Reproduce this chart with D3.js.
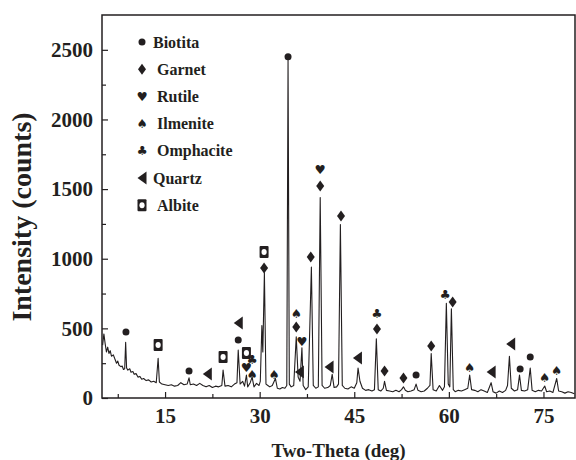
<!DOCTYPE html>
<html>
<head>
<meta charset="utf-8">
<script src="https://cdn.jsdelivr.net/npm/d3@7"></script>
<style>
  body { margin: 0; background: #fff; }
  svg text { font-family: "Liberation Serif", "Times New Roman", serif; font-weight: bold; fill: #231f20; }
  svg text.suit { font-family: "DejaVu Sans", "Liberation Sans", sans-serif; font-weight: normal; }
</style>
</head>
<body>
<svg id="chart"></svg>
<script>
// XRD pattern: 2-theta (deg) and intensity (counts)
const twoTheta = [
  5.1, 5.3, 5.5, 5.7, 5.9, 6.1, 6.3, 6.5, 6.8, 7.0, 7.3, 7.5, 7.7, 8.0, 8.2, 8.4, 8.6, 8.75, 8.9,
  9.1, 9.4, 9.6, 9.9, 10.1, 10.4, 10.7, 11.0, 11.3, 11.6, 12.0, 12.4, 12.8, 13.2, 13.6, 13.9, 14.1,
  14.5, 15.0, 15.5, 16.0, 16.5, 17.0, 17.5, 18.0, 18.5, 18.8, 19.0, 19.5, 20.0, 20.5, 21.0, 21.5,
  22.0, 22.5, 23.0, 23.5, 24.0, 24.2, 24.5, 25.0, 25.5, 26.0, 26.4, 26.6, 26.9, 27.3, 27.6, 27.9,
  28.1, 28.5, 28.8, 29.1, 29.5, 29.9, 30.1, 30.35, 30.5, 30.75, 31.0, 31.3, 31.6, 32.0, 32.5, 32.8,
  33.2, 33.6, 34.0, 34.3, 34.5, 34.7, 35.0, 35.4, 35.8, 36.1, 36.4, 36.7, 36.9, 37.3, 37.7, 38.2,
  38.5, 38.9, 39.3, 39.6, 39.9, 40.3, 40.8, 41.2, 41.5, 41.8, 42.2, 42.5, 42.8, 43.1, 43.5, 44.0,
  44.5, 45.0, 45.4, 45.6, 45.9, 46.3, 46.8, 47.3, 47.8, 48.2, 48.5, 48.8, 49.2, 49.6, 49.8, 50.1,
  50.6, 51.1, 51.6, 52.1, 52.5, 52.8, 53.1, 53.5, 54.0, 54.5, 54.8, 55.1, 55.6, 56.1, 56.6, 57.0,
  57.2, 57.5, 58.0, 58.5, 59.0, 59.3, 59.6, 59.9, 60.15, 60.4, 60.7, 61.0, 61.5, 62.0, 62.5, 63.0,
  63.3, 63.6, 64.1, 64.6, 65.1, 65.6, 66.1, 66.7, 67.0, 67.5, 68.0, 68.5, 69.0, 69.3, 69.6, 69.9,
  70.4, 70.9, 71.2, 71.5, 72.0, 72.5, 72.9, 73.2, 73.7, 74.2, 74.7, 75.2, 75.5, 76.0, 76.5, 77.1,
  77.4, 77.9, 78.4, 78.9, 79.4, 79.9
];
const counts = [
  380, 460, 390, 330, 365, 320, 340, 300, 310, 285, 250, 265, 235, 225, 230, 205, 210, 400, 215,
  200, 210, 185, 190, 170, 175, 150, 155, 135, 140, 125, 130, 115, 120, 110, 285, 115,
  100, 95, 90, 95, 85, 90, 110, 95, 100, 145, 95, 100, 90, 105, 90, 80,
  90, 75, 85, 80, 90, 200, 85, 90, 80, 100, 110, 345, 100, 120, 85, 165,
  80, 110, 150, 80, 105, 90, 120, 520, 330, 900, 100, 90, 80, 90, 140, 70,
  65, 75, 70, 90, 2430, 100, 80, 90, 440, 150, 120, 360, 90, 60, 80, 940,
  90, 70, 80, 1440, 90, 70, 75, 90, 170, 75, 80, 100, 1245, 90, 70, 65,
  80, 70, 110, 215, 120, 70, 55, 60, 50, 60, 425, 60, 50, 70, 120, 55,
  50, 45, 55, 45, 60, 80, 55, 45, 50, 60, 100, 55, 45, 50, 70, 90,
  320, 60, 50, 90, 55, 80, 680, 100, 80, 640, 60, 45, 55, 50, 60, 70,
  165, 60, 55, 45, 60, 50, 40, 110, 45, 35, 50, 40, 55, 90, 300, 70,
  50, 60, 165, 55, 50, 60, 215, 55, 45, 55, 50, 86, 45, 50, 40, 140,
  50, 45, 35, 45, 40, 30
];

// phase markers above the peaks
const markerPhase = [
  'Biotita', 'Albite', 'Biotita', 'Quartz', 'Albite', 'Biotita', 'Quartz', 'Rutile', 'Albite',
  'Ilmenite', 'Omphacite', 'Garnet', 'Albite', 'Ilmenite', 'Biotita', 'Ilmenite', 'Garnet',
  'Rutile', 'Quartz', 'Garnet', 'Rutile', 'Garnet', 'Quartz', 'Garnet', 'Quartz', 'Omphacite',
  'Garnet', 'Garnet', 'Garnet', 'Biotita', 'Garnet', 'Omphacite', 'Garnet', 'Ilmenite', 'Quartz',
  'Quartz', 'Biotita', 'Biotita', 'Ilmenite', 'Ilmenite'
];
const markerTheta = [
  8.8, 13.9, 18.8, 21.7, 24.2, 26.6, 26.6, 27.9, 27.9,
  28.8, 28.8, 30.7, 30.7, 32.3, 34.5, 35.8, 35.8,
  36.7, 36.3, 38.1, 39.6, 39.6, 41.0, 42.9, 45.5, 48.6,
  48.6, 49.8, 52.8, 54.8, 57.2, 59.4, 60.6, 63.3, 66.7,
  69.8, 71.3, 72.9, 75.2, 77.1
];
const markerCounts = [
  474, 381, 194, 172, 295, 417, 539, 216, 323,
  172, 280, 934, 1049, 172, 2450, 610, 510,
  409, 187, 1013, 1638, 1523, 223, 1307, 287, 610,
  496, 194, 144, 165, 374, 740, 690, 216, 187,
  388, 208, 295, 144, 194
];

const phases = ['Biotita', 'Garnet', 'Rutile', 'Ilmenite', 'Omphacite', 'Quartz', 'Albite'];
const xTicks = [15, 30, 45, 60, 75];
const yTicks = [0, 500, 1000, 1500, 2000, 2500];

const W = 576, H = 460;
const margin = {top: 15, right: 1, bottom: 62, left: 102};
const innerW = W - margin.left - margin.right;
const innerH = H - margin.top - margin.bottom;
const ink = '#231f20';

const svg = d3.select('#chart').attr('width', W).attr('height', H);
const g = svg.append('g').attr('transform', `translate(${margin.left},${margin.top})`);

const x = d3.scaleLinear().domain([5, 80]).range([0, innerW]);
const y = d3.scaleLinear().domain([0, 2750]).range([innerH, 0]);

// pattern line
const pts = twoTheta.map((t, i) => [t, counts[i]]);
g.append('path')
  .datum(pts)
  .attr('fill', 'none')
  .attr('stroke', ink)
  .attr('stroke-width', 1.1)
  .attr('stroke-linejoin', 'round')
  .attr('d', d3.line().x(d => x(d[0])).y(d => y(d[1])));

// axes: ticks inside, frame box
const xMajor = d3.axisBottom(x).tickValues(xTicks).tickSize(-6).tickPadding(10).tickFormat(d3.format('d'));
const xMinor = d3.axisBottom(x).tickValues(d3.range(7.5, 80, 15)).tickSize(-4).tickFormat('');
const yMajor = d3.axisLeft(y).tickValues(yTicks).tickSize(-6).tickPadding(9).tickFormat(d3.format('d'));
const yMinor = d3.axisLeft(y).tickValues(d3.range(250, 2750, 500)).tickSize(-4).tickFormat('');

[[xMajor, 'x'], [xMinor, 'x'], [yMajor, 'y'], [yMinor, 'y']].forEach(([ax, k]) => {
  const a = g.append('g')
    .attr('transform', k === 'x' ? `translate(0,${innerH})` : null)
    .call(ax);
  a.select('.domain').remove();
  a.selectAll('line').attr('stroke', ink).attr('stroke-width', 1.2);
  a.selectAll('text').attr('font-size', 21).attr('font-family', null).attr('fill', ink);
});

g.append('rect')
  .attr('width', innerW).attr('height', innerH)
  .attr('fill', 'none').attr('stroke', ink).attr('stroke-width', 1.5);

// markers: card suits as text glyphs (text presentation), the rest as shapes
const suits = {Rutile: '\u2665\uFE0E', Ilmenite: '\u2660\uFE0E', Omphacite: '\u2663\uFE0E'};

function drawMarker(sel, phase) {
  if (phase === 'Biotita') {
    sel.append('circle').attr('r', 3.5).attr('fill', ink);
  } else if (phase === 'Garnet') {
    sel.append('path').attr('d', 'M0,-5.5L4,0L0,5.5L-4,0Z').attr('fill', ink);
  } else if (phase === 'Quartz') {
    sel.append('path').attr('d', 'M-4.5,0L4.5,-6.5L4.5,6.5Z').attr('fill', ink);
  } else if (phase === 'Albite') {
    sel.append('rect').attr('x', -4.5).attr('y', -6).attr('width', 9).attr('height', 12)
      .attr('rx', 1).attr('fill', ink);
    sel.append('ellipse').attr('rx', 2.6).attr('ry', 3).attr('fill', '#fff');
  } else {
    sel.append('text').attr('class', 'suit').text(suits[phase])
      .attr('text-anchor', 'middle').attr('dy', '0.36em')
      .attr('font-size', 12.5)
      .style('fill', ink);
  }
}

markerPhase.forEach((p, i) => {
  const m = g.append('g').attr('transform', `translate(${x(markerTheta[i])},${y(markerCounts[i])})`);
  drawMarker(m, p);
});

// legend
const legend = svg.append('g').attr('transform', 'translate(142,42)');
phases.forEach((p, i) => {
  const row = legend.append('g').attr('transform', `translate(0,${i * 27.2})`);
  drawMarker(row, p);
  row.append('text').text(p)
    .attr('x', p === 'Quartz' || p === 'Biotita' ? 11 : 15)
    .attr('dy', '0.35em')
    .attr('font-size', 16);
});

// axis titles
svg.append('text')
  .attr('x', margin.left + innerW / 2).attr('y', 457)
  .attr('text-anchor', 'middle').attr('font-size', 19)
  .text('Two-Theta (deg)');

svg.append('text')
  .attr('transform', 'translate(31,217) rotate(-90)')
  .attr('text-anchor', 'middle').attr('font-size', 28)
  .text('Intensity (counts)');
</script>
</body>
</html>
